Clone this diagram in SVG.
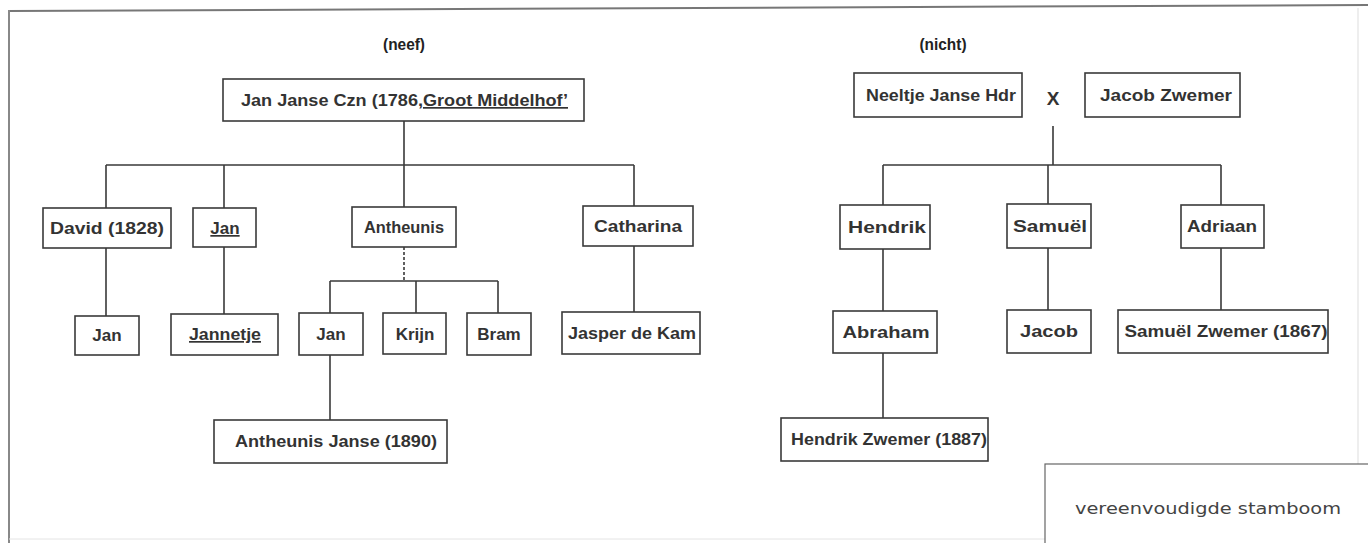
<svg xmlns="http://www.w3.org/2000/svg" width="1368" height="543" viewBox="0 0 1368 543">
<style>
.box{fill:#fff;stroke:#3a3a3a;stroke-width:1.6}
.t{font-family:"Liberation Sans",Arial,sans-serif;font-weight:bold;font-size:17px;fill:#333;text-anchor:middle}
.h{font-family:"Liberation Sans",Arial,sans-serif;font-weight:bold;font-size:16px;fill:#222;text-anchor:middle}
.c{fill:none;stroke:#3a3a3a;stroke-width:1.6}
.u{text-decoration:underline}
</style>
<rect x="0" y="0" width="1368" height="543" fill="#fff"/>
<g id="frame" fill="none">
<line x1="9" y1="11" x2="1368" y2="5" stroke="#777" stroke-width="2"/>
<line x1="9" y1="10" x2="9" y2="543" stroke="#888" stroke-width="2"/>
<line x1="1358" y1="8" x2="1358" y2="543" stroke="#ddd" stroke-width="1"/>
<line x1="9" y1="539" x2="1368" y2="539" stroke="#e4e4e4" stroke-width="1"/>
</g>
<text class="h" x="404" y="50" textLength="42" lengthAdjust="spacingAndGlyphs">(neef)</text>
<text class="h" x="943" y="50" textLength="47" lengthAdjust="spacingAndGlyphs">(nicht)</text>
<g id="connectors">
<path class="c" d="M404 121 V165 M106 165 H634 M106 165 V208 M224 165 V208 M404 165 V207 M634 165 V206"/>
<path class="c" d="M106 248 V316 M224 247 V314 M634 246 V312"/>
<path class="c" d="M404 247 V281" stroke-dasharray="3,2"/>
<path class="c" d="M330 281 H498 M330 281 V313 M416 281 V313 M498 281 V313"/>
<path class="c" d="M330 355 V420"/>
<path class="c" d="M1053 126 V165 M883 165 H1221 M883 165 V205 M1048 165 V204 M1221 165 V205"/>
<path class="c" d="M883 249 V311 M1048 248 V310 M1221 248 V310 M883 353 V418"/>
</g>
<g id="n-janjanse"><rect class="box" x="223" y="79" width="361" height="42"/><text class="t" x="241" y="106" style="text-anchor:start" textLength="327" lengthAdjust="spacingAndGlyphs">Jan Janse Czn (1786,<tspan class="u">Groot Middelhof’</tspan></text></g>
<g id="n-david"><rect class="box" x="43" y="208" width="128" height="40"/><text class="t" x="107" y="234" textLength="114" lengthAdjust="spacingAndGlyphs">David (1828)</text></g>
<g id="n-jan1"><rect class="box" x="193" y="208" width="63" height="39"/><text class="t u" x="225" y="234">Jan</text></g>
<g id="n-antheunis"><rect class="box" x="352" y="207" width="104" height="40"/><text class="t" x="404" y="233" textLength="80" lengthAdjust="spacingAndGlyphs">Antheunis</text></g>
<g id="n-catharina"><rect class="box" x="583" y="206" width="110" height="40"/><text class="t" x="638" y="232" textLength="88" lengthAdjust="spacingAndGlyphs">Catharina</text></g>
<g id="n-jan2"><rect class="box" x="75" y="316" width="64" height="39"/><text class="t" x="107" y="341">Jan</text></g>
<g id="n-jannetje"><rect class="box" x="171" y="314" width="107" height="41"/><text class="t u" x="225" y="340" textLength="72" lengthAdjust="spacingAndGlyphs">Jannetje</text></g>
<g id="n-jan3"><rect class="box" x="299" y="313" width="64" height="42"/><text class="t" x="331" y="340">Jan</text></g>
<g id="n-krijn"><rect class="box" x="383" y="313" width="63" height="41"/><text class="t" x="415" y="340">Krijn</text></g>
<g id="n-bram"><rect class="box" x="467" y="313" width="64" height="42"/><text class="t" x="499" y="340">Bram</text></g>
<g id="n-jasper"><rect class="box" x="562" y="312" width="138" height="42"/><text class="t" x="632" y="339" textLength="128" lengthAdjust="spacingAndGlyphs">Jasper de Kam</text></g>
<g id="n-antheunisjanse"><rect class="box" x="214" y="420" width="233" height="43"/><text class="t" x="336" y="447" textLength="202" lengthAdjust="spacingAndGlyphs">Antheunis Janse (1890)</text></g>
<g id="n-neeltje"><rect class="box" x="854" y="73" width="168" height="44"/><text class="t" x="941" y="101" textLength="150" lengthAdjust="spacingAndGlyphs">Neeltje Janse Hdr</text></g>
<text class="t" x="1053" y="105" style="font-size:19px">X</text>
<g id="n-jacobzwemer"><rect class="box" x="1085" y="73" width="155" height="44"/><text class="t" x="1166" y="101" textLength="132" lengthAdjust="spacingAndGlyphs">Jacob Zwemer</text></g>
<g id="n-hendrik"><rect class="box" x="840" y="205" width="90" height="44"/><text class="t" x="887" y="233" textLength="78" lengthAdjust="spacingAndGlyphs">Hendrik</text></g>
<g id="n-samuel"><rect class="box" x="1007" y="204" width="84" height="44"/><text class="t" x="1050" y="232" textLength="74" lengthAdjust="spacingAndGlyphs">Samuël</text></g>
<g id="n-adriaan"><rect class="box" x="1181" y="205" width="83" height="43"/><text class="t" x="1222" y="232" textLength="70" lengthAdjust="spacingAndGlyphs">Adriaan</text></g>
<g id="n-abraham"><rect class="box" x="833" y="311" width="104" height="42"/><text class="t" x="886" y="338" textLength="87" lengthAdjust="spacingAndGlyphs">Abraham</text></g>
<g id="n-jacob"><rect class="box" x="1007" y="310" width="84" height="43"/><text class="t" x="1049" y="337" textLength="58" lengthAdjust="spacingAndGlyphs">Jacob</text></g>
<g id="n-samuelzwemer"><rect class="box" x="1118" y="310" width="210" height="43"/><text class="t" x="1226" y="337" textLength="203" lengthAdjust="spacingAndGlyphs">Samuël Zwemer (1867)</text></g>
<g id="n-hendrikzwemer"><rect class="box" x="781" y="418" width="207" height="43"/><text class="t" x="889" y="445" textLength="196" lengthAdjust="spacingAndGlyphs">Hendrik Zwemer (1887)</text></g>
<g id="legend"><rect x="1045" y="464" width="330" height="90" fill="#fff" stroke="#666" stroke-width="1.2"/><text x="1208" y="514" font-family="'DejaVu Sans',sans-serif" font-size="15" fill="#444" text-anchor="middle" textLength="266" lengthAdjust="spacingAndGlyphs">vereenvoudigde stamboom</text></g>
</svg>
